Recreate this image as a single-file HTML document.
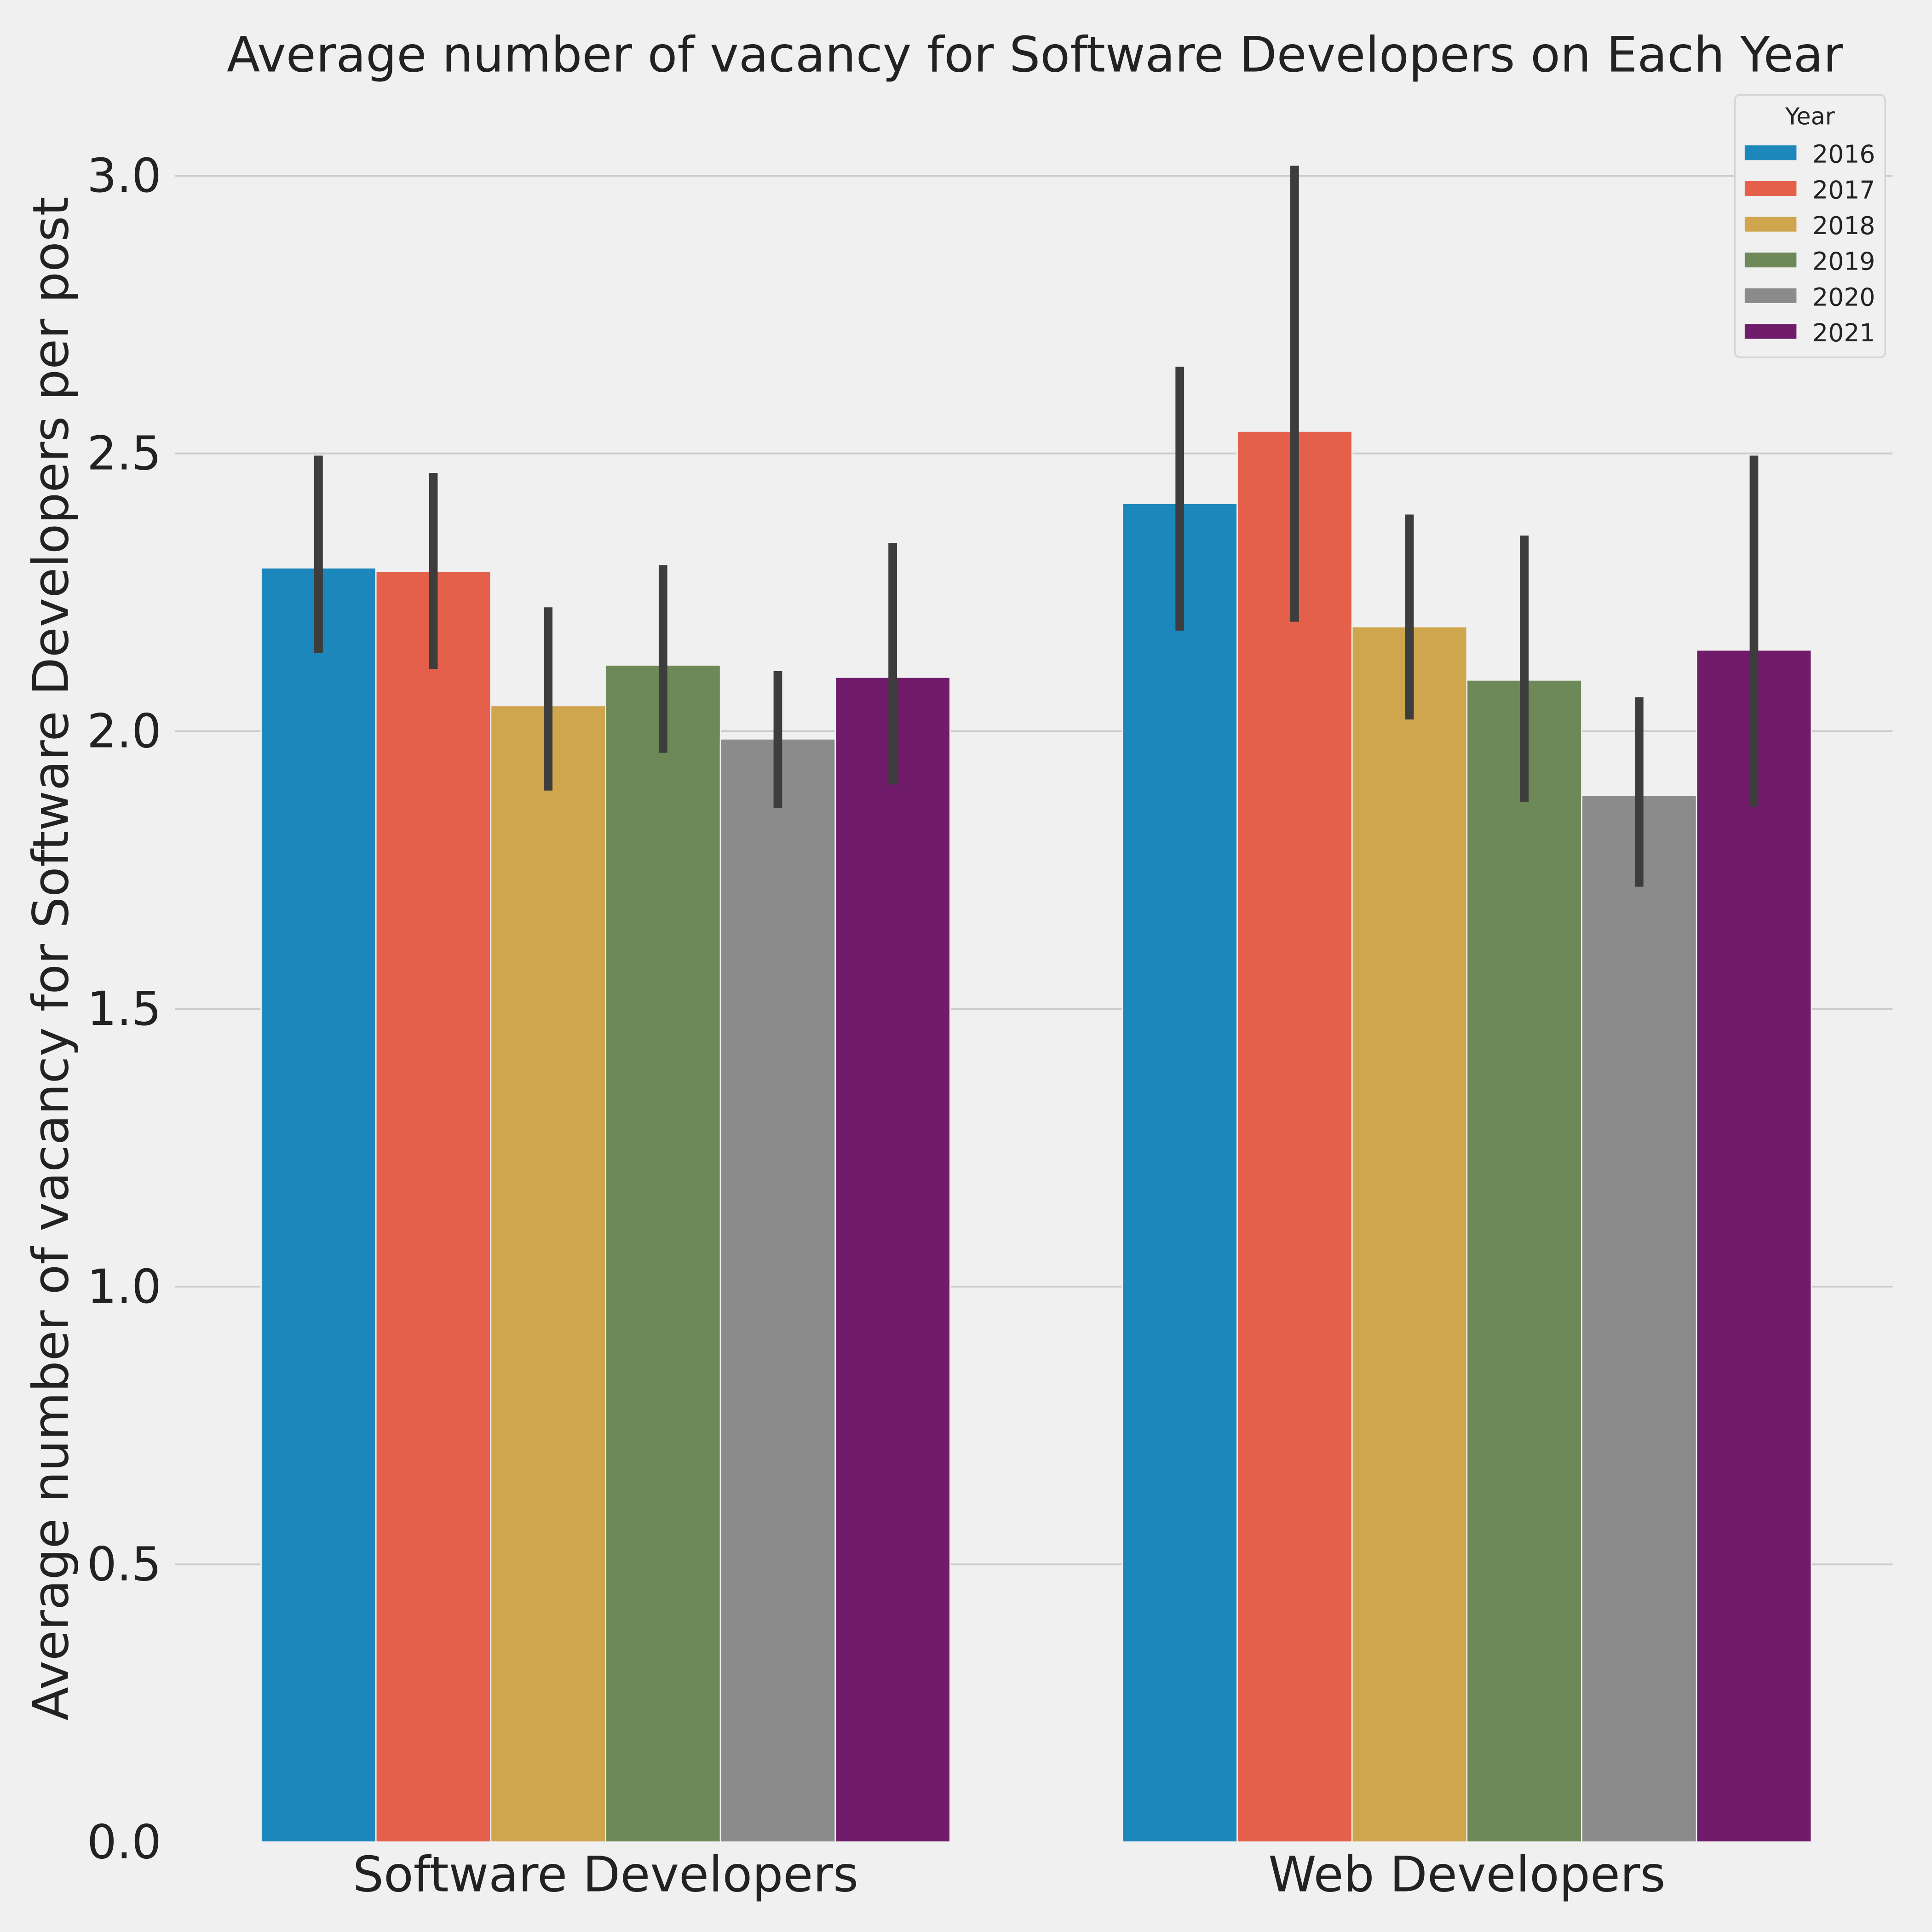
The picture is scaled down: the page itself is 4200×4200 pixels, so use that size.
<!DOCTYPE html>
<html><head><meta charset="utf-8"><style>
html,body{margin:0;padding:0;background:#f0f0f0;}
svg{display:block;font-family:"DejaVu Sans","Liberation Sans",sans-serif;}
</style></head><body>
<svg id="chart" width="4200" height="4200" viewBox="0 0 1568 1568" xmlns="http://www.w3.org/2000/svg">
<rect x="0" y="0" width="1568" height="1568" fill="#f0f0f0"/>
<text x="840" y="58" font-size="39.5" text-anchor="middle" fill="#222">Average number of vacancy for Software Developers on Each Year</text>
<text transform="translate(55,778) rotate(-90)" font-size="40" text-anchor="middle" fill="#222">Average number of vacancy for Software Developers per post</text>
<g id="grid"></g><g id="bars"></g><g id="errs"></g><g id="ticks"></g>
<g id="legend"></g>
</svg>
<script>
const categories = ["Software Developers", "Web Developers"];
const years = ["2016", "2017", "2018", "2019", "2020", "2021"];
const colors = ["#1c87bb", "#e5604a", "#cfa54e", "#6e8958", "#8b8b8b", "#701c6a"];
const means = [
  [2.294, 2.288, 2.046, 2.119, 1.986, 2.097],
  [2.410, 2.540, 2.188, 2.092, 1.884, 2.146]
];
const errLow = [
  [2.141, 2.112, 1.893, 1.961, 1.862, 1.904],
  [2.181, 2.197, 2.021, 1.873, 1.720, 1.864]
];
const errHigh = [
  [2.496, 2.465, 2.223, 2.299, 2.108, 2.339],
  [2.656, 3.018, 2.390, 2.352, 2.061, 2.496]
];
const yTicks = ["0.0", "0.5", "1.0", "1.5", "2.0", "2.5", "3.0"];

const NS = "http://www.w3.org/2000/svg";
const axL = 142, axR = 1540, y0 = 1495, pxPerUnit = 450.8;
const yS = v => y0 - v * pxPerUnit;
const xS = c => axL + (c + 0.5) * (axR - axL) / 2;
const barW = 0.8 * (axR - axL) / 2 / years.length;
function mk(tag, attrs, parent) {
  const e = document.createElementNS(NS, tag);
  for (const k in attrs) e.setAttribute(k, attrs[k]);
  document.getElementById(parent).appendChild(e);
  return e;
}
yTicks.forEach(t => {
  const v = parseFloat(t);
  if (v > 0) {
    const g = mk("line", {x1: axL, x2: 1536, y1: yS(v), y2: yS(v), stroke: "#cbcbcb", "stroke-width": 1.5}, "grid");
    
    
  }
  const tl = mk("text", {x: 131, y: yS(v) + 13, "font-size": 38, "text-anchor": "end", fill: "#222"}, "ticks");
  tl.textContent = t;
  
  
});
categories.forEach((c, ci) => {
  const xl = mk("text", {x: xS(ci), y: 1535, "font-size": 39.5, "text-anchor": "middle", fill: "#222"}, "ticks");
  xl.textContent = c;
  
  
  years.forEach((yr, yi) => {
    const left = xS(ci) - 3 * barW + yi * barW;
    const b = mk("rect", {x: left, y: yS(means[ci][yi]), width: barW, height: yS(0) - yS(means[ci][yi]), fill: colors[yi], stroke: "#f0f0f0", "stroke-width": 1}, "bars");
    
    
    const e = mk("line", {x1: left + barW / 2, x2: left + barW / 2, y1: yS(errLow[ci][yi]), y2: yS(errHigh[ci][yi]), stroke: "#3d3d3d", "stroke-width": 7}, "errs");
    
    
  });
});
const lb = mk("rect", {x: 1408, y: 77, width: 122, height: 213, rx: 4, fill: "#f0f0f0", stroke: "#d5d5d5", "stroke-width": 1.3}, "legend");


const lt = mk("text", {x: 1469, y: 101, "font-size": 19, "text-anchor": "middle", fill: "#222"}, "legend");
lt.textContent = "Year";


years.forEach((yr, i) => {
  const yy = 125 + i * 29;
  const sw = mk("rect", {x: 1416, y: yy - 7, width: 42, height: 12, fill: colors[i]}, "legend");
  
  
  const tx = mk("text", {x: 1471, y: yy + 7, "font-size": 20, fill: "#222"}, "legend");
  tx.textContent = yr;
  
  
});
</script>
</body></html>
